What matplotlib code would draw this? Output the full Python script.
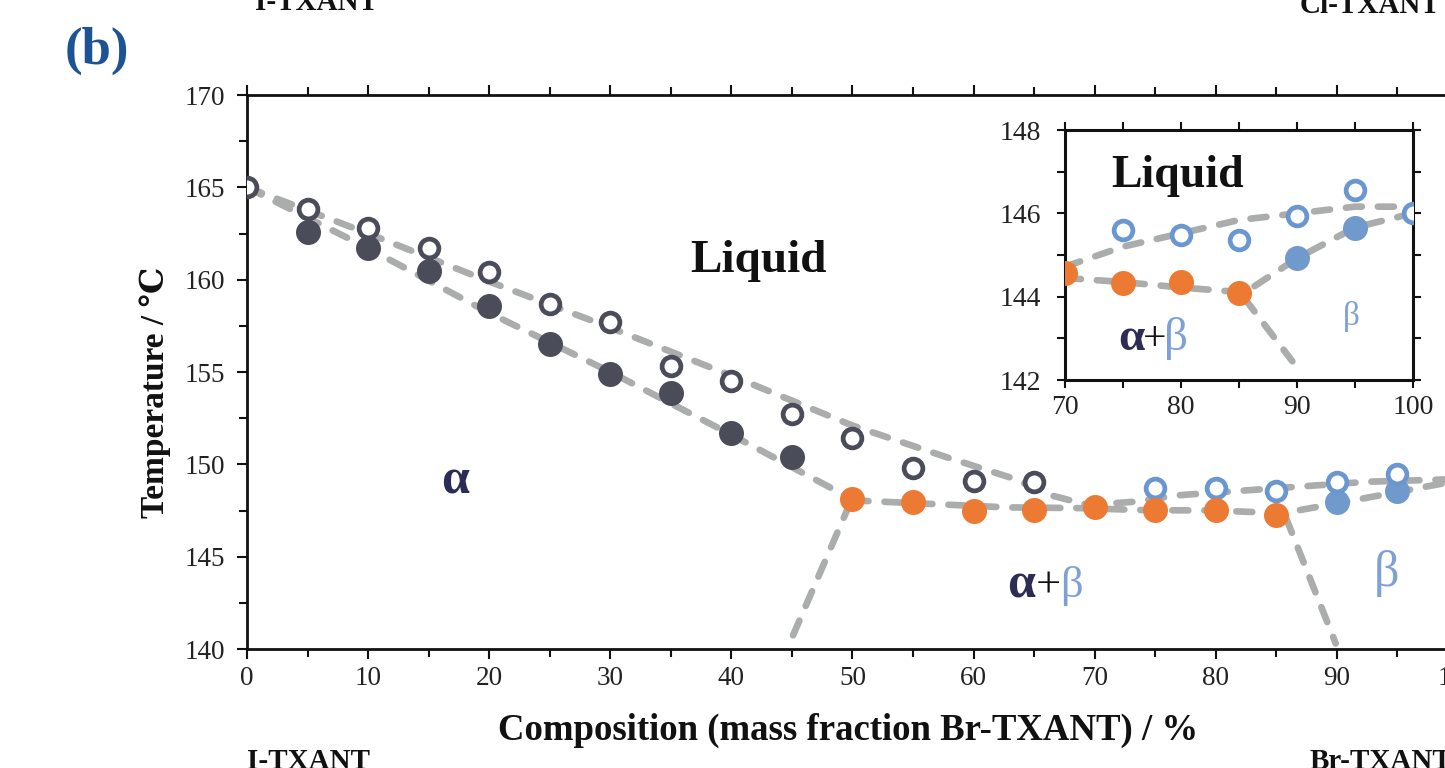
import matplotlib
matplotlib.use("Agg")
import matplotlib.pyplot as plt
from matplotlib.ticker import MultipleLocator

# ---------------- data ----------------
# main diagram: I-TXANT / Br-TXANT
open_dark_x = [0, 5, 10, 15, 20, 25, 30, 35, 40, 45, 50, 55, 60, 65]
open_dark_T = [165.0, 163.8, 162.8, 161.7, 160.4, 158.7, 157.7, 155.3, 154.5, 152.7, 151.4, 149.8, 149.1, 149.05]
filled_dark_x = [5, 10, 15, 20, 25, 30, 35, 40, 45]
filled_dark_T = [162.6, 161.7, 160.45, 158.6, 156.5, 154.9, 153.85, 151.7, 150.4]
orange_x = [50, 55, 60, 65, 70, 75, 80, 85]
orange_T = [148.1, 147.97, 147.5, 147.52, 147.7, 147.55, 147.55, 147.25]
open_blue_x = [75, 80, 85, 90, 95, 100]
open_blue_T = [148.7, 148.7, 148.57, 149.06, 149.5, 149.1]
filled_blue_x = [90, 95]
filled_blue_T = [147.97, 148.55]

liquidus_x = [0, 10, 20, 30, 40, 50, 57.7, 63.2, 66.5, 69.5, 73.2, 77, 87, 92.6, 100]
liquidus_T = [165.0, 162.5, 159.9, 157.4, 154.8, 152.1, 150.4, 149.25, 148.3, 147.8, 147.97, 148.33, 148.8, 149.06, 149.2]
solidus_a_x = [0, 10, 20, 30, 40, 50]
solidus_a_T = [165.0, 161.7, 158.2, 155.0, 151.6, 148.1]
eut_sol_b_x = [50, 55, 62.7, 68.7, 74.2, 80, 85.5, 91.5, 98.8, 100]
eut_sol_b_T = [148.05, 147.9, 147.67, 147.63, 147.52, 147.5, 147.35, 148.07, 148.97, 149.1]
solvus_a_x = [49.8, 44.8]
solvus_a_T = [147.9, 140.3]
solvus_b_x = [85.8, 89.9]
solvus_b_T = [147.1, 140.3]

# inset: 70-100 %
in_open_x = [75, 80, 85, 90, 95, 100]
in_open_T = [145.6, 145.48, 145.36, 145.94, 146.56, 146.0]
in_orange_x = [70, 75, 80, 85]
in_orange_T = [144.56, 144.32, 144.34, 144.1]
in_fblue_x = [90, 95]
in_fblue_T = [144.94, 145.66]
in_liq_x = [70, 75, 80, 85, 90, 95, 100]
in_liq_T = [144.72, 145.2, 145.52, 145.84, 146.0, 146.16, 146.16]
in_sol_x = [70, 75, 80, 85.5, 90, 95, 100]
in_sol_T = [144.45, 144.35, 144.22, 144.1, 144.92, 145.66, 146.0]
in_solvus_x = [85.5, 89.6]
in_solvus_T = [143.95, 142.45]

main_xticks = [0, 10, 20, 30, 40, 50, 60, 70, 80, 90, 100]
main_yticks = [140, 145, 150, 155, 160, 165, 170]
inset_xticks = [70, 80, 90, 100]
inset_yticks = [142, 144, 146, 148]

# ---------------- style ----------------
SERIF = ['Liberation Serif', 'DejaVu Serif']
plt.rcParams['font.family'] = SERIF
DARK = '#4b4c5a'
ORANGE = '#ec7a33'
BLUE = '#7099cc'
BLUE_OPEN = '#6b97d1'
GRAY = '#abadad'
ALPHA_C = '#2c2d57'
BETA_C = '#7da1d6'
TXT = '#222222'

W, H = 1445, 768
fig = plt.figure(figsize=(W / 100, H / 100), dpi=100)


def fx(px):
    return px / W


def fy(py):
    return 1 - py / H


# main axes: x 247..1458 px, y 95..649 px
ax = fig.add_axes([fx(247), fy(649), fx(1458) - fx(247), fy(95) - fy(649)])
ax.set_xlim(0, 100)
ax.set_ylim(140, 170)

line_kw = dict(color=GRAY, lw=4.8, dashes=(2.4, 2.4), dash_capstyle='round', zorder=2)
ax.plot(liquidus_x, liquidus_T, **line_kw)
ax.plot(solidus_a_x, solidus_a_T, **line_kw)
ax.plot(eut_sol_b_x, eut_sol_b_T, **line_kw)
ax.plot(solvus_a_x, solvus_a_T, **line_kw)
ax.plot(solvus_b_x, solvus_b_T, **line_kw)

ms_f = 18
ms_o = 13.5
mew_o = 3.4
ax.plot(filled_dark_x, filled_dark_T, 'o', ms=ms_f, mfc=DARK, mec='none', zorder=3)
ax.plot(open_dark_x, open_dark_T, 'o', ms=ms_o, mfc='white', mec=DARK, mew=mew_o, zorder=4)
ax.plot(filled_blue_x, filled_blue_T, 'o', ms=ms_f, mfc=BLUE, mec='none', zorder=3)
ax.plot(open_blue_x, open_blue_T, 'o', ms=ms_o, mfc='white', mec=BLUE_OPEN, mew=mew_o, zorder=4)
ax.plot(orange_x, orange_T, 'o', ms=ms_f, mfc=ORANGE, mec='none', zorder=5)

ax.set_xticks(main_xticks)
ax.set_yticks(main_yticks)
ax.xaxis.set_minor_locator(MultipleLocator(5))
ax.yaxis.set_minor_locator(MultipleLocator(2.5))
ax.tick_params(which='both', direction='out', top=True, right=True, width=1.5,
               colors='#111111', labelcolor=TXT, labelsize=19.5)
ax.tick_params(which='major', length=7.5, pad=5)
ax.tick_params(which='minor', length=5.5)
ax.tick_params(axis='y', which='major', pad=8)
for s in ax.spines.values():
    s.set_linewidth(2.0)
    s.set_color('#111111')

# region labels (main)
ax.text(42.2, 160.4, 'Liquid', fontsize=34, fontweight='bold', color='#111111',
        ha='center', va='baseline', zorder=6)
ax.text(17.2, 148.4, 'α', fontsize=36, fontweight='bold', color=ALPHA_C,
        ha='center', va='baseline', zorder=6)
ax.text(63.95, 142.8, 'α', fontsize=36, fontweight='bold', color=ALPHA_C,
        ha='center', va='baseline', zorder=6)
ax.text(66.15, 142.8, '+', fontsize=32, color='#111111', ha='center', va='baseline', zorder=6)
ax.text(68.1, 142.8, 'β', fontsize=32, color=BETA_C, ha='center', va='baseline', zorder=6)
ax.text(94.1, 143.4, 'β', fontsize=36, color=BETA_C, ha='center', va='baseline', zorder=6)

# axis labels
fig.text(fx(848), fy(730), 'Composition (mass fraction Br-TXANT) / %', fontsize=26.5,
         fontweight='bold', color='#111111', ha='center', va='center')
fig.text(fx(155), fy(392), 'Temperature / ℃', fontsize=24, fontweight='bold',
         color='#111111', ha='center', va='center', rotation=90)

# panel label and component names
fig.text(fx(65), fy(64), '(b)', fontsize=38, fontweight='bold', color='#1d5394',
         ha='left', va='baseline')
fig.text(fx(255), fy(10), 'I-TXANT', fontsize=21, fontweight='bold', color='#111111',
         ha='left', va='baseline')
fig.text(fx(1300), fy(13), 'Cl-TXANT', fontsize=21, fontweight='bold', color='#111111',
         ha='left', va='baseline')
fig.text(fx(247), fy(769), 'I-TXANT', fontsize=21, fontweight='bold', color='#111111',
         ha='left', va='baseline')
fig.text(fx(1310), fy(769), 'Br-TXANT', fontsize=21, fontweight='bold', color='#111111',
         ha='left', va='baseline')

# ---------------- inset ----------------
ins = fig.add_axes([fx(1065), fy(380), fx(1413) - fx(1065), fy(130) - fy(380)])
ins.set_facecolor('white')
ins.set_xlim(70, 100)
ins.set_ylim(142, 148)
ins.plot(in_liq_x, in_liq_T, **line_kw)
ins.plot(in_sol_x, in_sol_T, **line_kw)
ins.plot(in_solvus_x, in_solvus_T, **line_kw)
ins.plot(in_fblue_x, in_fblue_T, 'o', ms=ms_f, mfc=BLUE, mec='none', zorder=3)
ins.plot(in_open_x, in_open_T, 'o', ms=ms_o, mfc='white', mec=BLUE_OPEN, mew=mew_o, zorder=4)
ins.plot(in_orange_x, in_orange_T, 'o', ms=ms_f, mfc=ORANGE, mec='none', zorder=5)
ins.set_xticks(inset_xticks)
ins.set_yticks(inset_yticks)
ins.xaxis.set_minor_locator(MultipleLocator(5))
ins.yaxis.set_minor_locator(MultipleLocator(1))
ins.tick_params(which='both', direction='out', top=True, right=True, width=1.5,
                length=6, colors='#111111', labelcolor=TXT, labelsize=20)
ins.tick_params(axis='y', which='major', pad=11)
ins.tick_params(axis='x', which='major', pad=5)
for s in ins.spines.values():
    s.set_linewidth(2.2)
    s.set_color('#111111')

ins.text(79.7, 146.64, 'Liquid', fontsize=33, fontweight='bold', color='#111111',
         ha='center', va='baseline', zorder=6)
ins.text(75.73, 142.72, 'α', fontsize=34, fontweight='bold', color=ALPHA_C,
         ha='center', va='baseline', zorder=6)
ins.text(77.76, 142.72, '+', fontsize=30, color='#111111', ha='center', va='baseline', zorder=6)
ins.text(79.6, 142.72, 'β', fontsize=34, color=BETA_C, ha='center', va='baseline', zorder=6)
ins.text(94.7, 143.32, 'β', fontsize=24, color=BETA_C, ha='center', va='baseline', zorder=6)

fig.savefig('out.png', dpi=100, facecolor='white')
